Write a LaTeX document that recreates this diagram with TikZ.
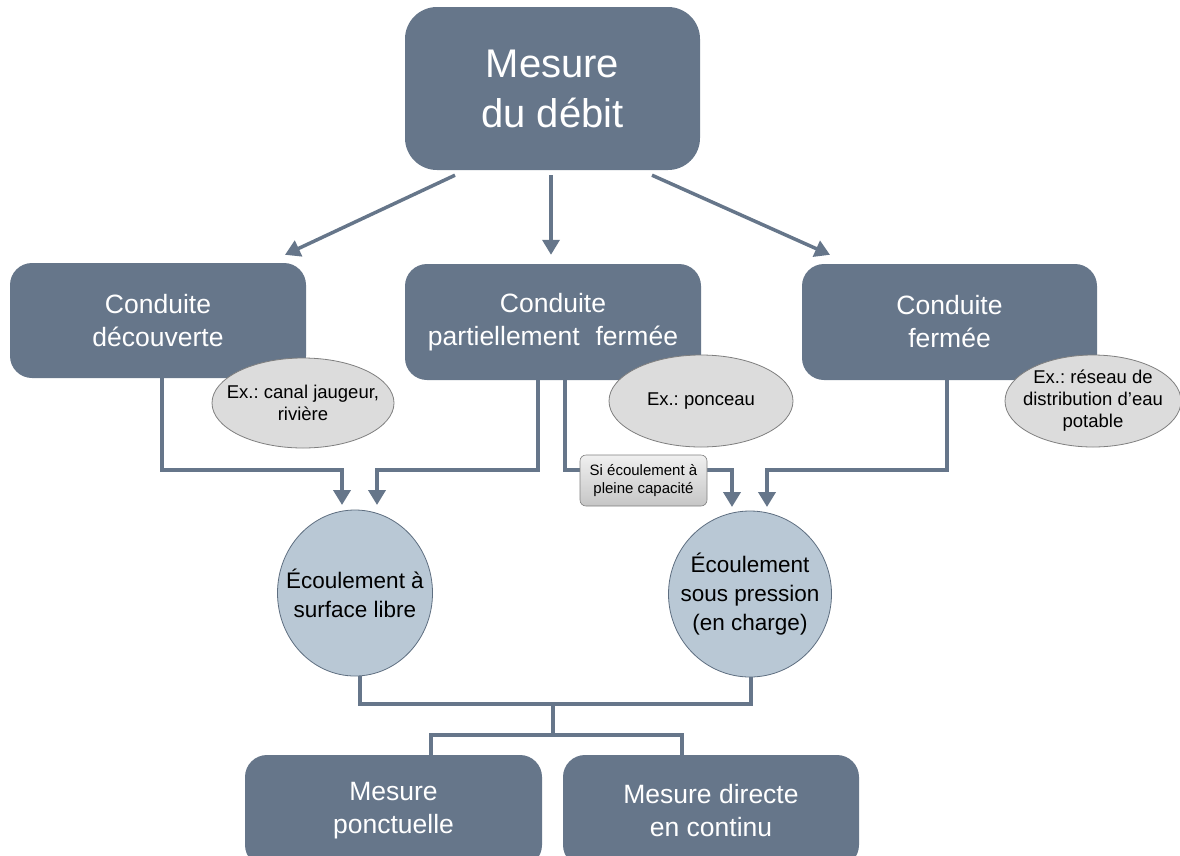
\documentclass[tikz,border=0pt]{standalone}
\usepackage{fontspec}
\setmainfont{Liberation Sans}
\usetikzlibrary{arrows.meta,shapes.geometric}
\frenchspacing
\definecolor{slate}{HTML}{66768A}
\definecolor{flowfill}{HTML}{B9C8D5}
\definecolor{flowedge}{HTML}{5E6E80}
\definecolor{exfill}{HTML}{DCDCDC}
\definecolor{exedge}{HTML}{7F7F7F}
\tikzset{
  mainbox/.style={fill=slate, draw=none, rounded corners=22pt, text=white,
    align=center, inner sep=0pt, font=\fontsize{26.5}{33}\selectfont},
  % the shapes keep their given size; their text sits in a centred label
  flowbubble/.style={ellipse, fill=flowfill, draw=flowedge, line width=0.8pt,
    inner sep=0pt},
  flowtext/.style={align=center, inner sep=0pt, font=\fontsize{22.5}{29}\selectfont},
  example/.style={ellipse, fill=exfill, draw=exedge, line width=0.8pt,
    inner sep=0pt},
  extext/.style={align=center, inner sep=0pt, font=\fontsize{18.5}{22}\selectfont},
  notebox/.style={rounded corners=6pt, draw=exedge, line width=0.6pt,
    top color=gray!12, bottom color=gray!45, align=center, inner sep=0pt,
    font=\fontsize{15}{18}\selectfont},
  link/.style={draw=slate, line width=4pt},
  arr/.style={link, -{Triangle[width=17pt,length=15pt]}},
  darr/.style={draw=slate, line width=3.5pt, -{Triangle[width=17pt,length=15pt]}},
}
\begin{document}
\begin{tikzpicture}[x=1pt, y=-1pt]
\useasboundingbox (0,0) rectangle (1180,855);
\clip (0,0) rectangle (1180,855);

% top-level box
\node[mainbox, rounded corners=32pt, minimum width=295pt, minimum height=163pt,
  font=\fontsize{40}{50}\selectfont] (top) at (552.5,88.5) {Mesure\\du débit};

% three kinds of conduit
\node[mainbox, minimum width=296pt, minimum height=115pt] (open) at (158,320.5)
  {Conduite\\découverte};
\node[mainbox, minimum width=296pt, minimum height=116pt] (partial) at (553,322)
  {Conduite\\partiellement\hspace{0.6em}fermée};
\node[mainbox, minimum width=295pt, minimum height=116pt] (closed) at (949.5,322)
  {Conduite\\fermée};

% flow regimes
\node[flowbubble, minimum width=155pt, minimum height=166pt] (free) at (355,593) {};
\node[flowtext] (freetxt) at (free) {Écoulement à\\surface libre};
\node[flowbubble, minimum width=163pt, minimum height=166pt] (press) at (750,594) {};
\node[flowtext] (presstxt) at (press) {Écoulement\\sous pression\\(en charge)};

% measurement types
\node[mainbox, minimum width=297pt, minimum height=112pt] (spot) at (393.5,811)
  {Mesure\\ponctuelle};
\node[mainbox, minimum width=296pt, minimum height=112pt] (cont) at (711,811)
  {Mesure directe\\en continu};

% arrows from the top box
\draw[darr] ([xshift=-97.5pt,yshift=-5pt]top.south) -- ([xshift=127pt,yshift=8pt]open.north);
\draw[darr] ([xshift=-1.5pt,yshift=-5pt]top.south) -- ([xshift=-2pt,yshift=9pt]partial.north);
\draw[darr] ([xshift=99.5pt,yshift=-5pt]top.south) -- ([xshift=-119.5pt,yshift=9pt]closed.north);

% junction coordinates above the flow regimes
\coordinate (fa) at (342,505);
\coordinate (fb) at (377,505);
\coordinate (pa) at (732,507);
\coordinate (pb) at (767,507);

\draw[arr] ([xshift=4pt]open.south) -- ++(0,92) -| (fa);
\draw[arr] ([xshift=-15pt]partial.south) -- ++(0,90) -| (fb);
\draw[arr] ([xshift=12pt]partial.south) -- ++(0,90) -| (pa);
\draw[arr] ([xshift=-2.5pt]closed.south) -- ++(0,90) -| (pb);

% label on the full-capacity branch
\node[notebox, minimum width=127pt, minimum height=51pt] (full) at (643.5,480.5)
  {Si écoulement à\\pleine capacité};

% examples
\node[example, minimum width=182pt, minimum height=90pt] (ex1) at (303,403) {};
\node[extext] (ex1txt) at (ex1) {Ex.: canal jaugeur,\\rivière};
\node[example, minimum width=184pt, minimum height=92pt] (ex2) at (701,401) {};
\node[extext] (ex2txt) at (ex2) {Ex.: ponceau};
\node[example, minimum width=176pt, minimum height=92pt] (ex3) at (1093,401) {};
\node[extext] (ex3txt) at (ex3) {Ex.: réseau de\\distribution d’eau\\potable};

% links to the measurement types
\coordinate (mid) at (553,704);
\draw[link] ([xshift=5pt]free.south) |- (mid) -| ([xshift=1pt]press.south);
\draw[link] (mid) -- (553,735);
\draw[link] (spot.north -| 431,0) |- (553,735) -| (cont.north -| 682,0);
\end{tikzpicture}
\end{document}
